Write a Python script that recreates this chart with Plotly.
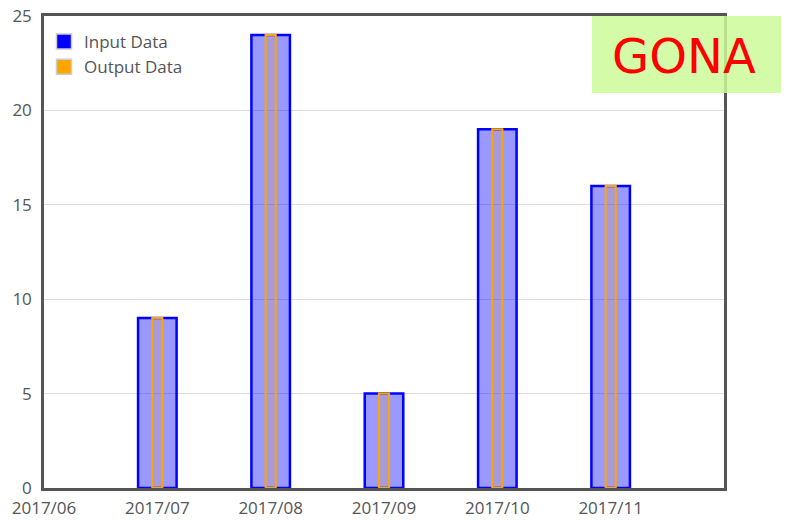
import plotly.graph_objects as go

categories = ["2017/06", "2017/07", "2017/08", "2017/09", "2017/10", "2017/11"]
input_values = [None, 9, 24, 5, 19, 16]
output_values = [None, 9, 24, 5, 19, 16]
y_ticks = [0, 5, 10, 15, 20, 25]

xpos = list(range(len(categories)))
font_family = "Open Sans, Noto Sans, sans-serif"

# The page body has a default 8px margin, so the figure is drawn offset by (8, 8).
OFF = 8
FIG_W, FIG_H = 789 - OFF, 520 - OFF
L, R, T, B = 44 - OFF, 65, 16 - OFF, 32
W = FIG_W - L - R
H = FIG_H - T - B

fig = go.Figure()
fig.add_trace(go.Bar(
    x=xpos, y=input_values, width=0.34, showlegend=False,
    marker=dict(color="rgba(0,0,255,0.4)", line=dict(color="#0000ff", width=2.5)),
))
fig.add_trace(go.Bar(
    x=xpos, y=output_values, width=0.09, showlegend=False,
    marker=dict(color="rgba(255,165,0,0.15)", line=dict(color="#ffa500", width=2)),
))
fig.add_trace(go.Scatter(
    x=[None], y=[None], mode="markers", name="Input Data",
    marker=dict(symbol="square", size=15, color="#0000ff", line=dict(color="#cccccc", width=1.5)),
))
fig.add_trace(go.Scatter(
    x=[None], y=[None], mode="markers", name="Output Data",
    marker=dict(symbol="square", size=15, color="#ffa500", line=dict(color="#cccccc", width=1.5)),
))

# GONA badge (page coordinates -> paper coordinates)
px = lambda v: (v - OFF - L) / W
py = lambda v: 1 - (v - OFF - T) / H
fig.add_shape(type="rect", xref="paper", yref="paper",
              x0=px(592), x1=px(800), y0=py(93), y1=py(16),
              fillcolor="rgba(204,250,153,0.85)", line=dict(width=0), layer="above")
fig.add_annotation(text="GONA", xref="paper", yref="paper",
                   x=px(684), y=py(56),
                   xanchor="center", yanchor="middle", showarrow=False,
                   font=dict(family="DejaVu Sans", size=48, color="#ff0000"))

fig.update_layout(
    template="none",
    width=FIG_W, height=FIG_H, autosize=False,
    margin=dict(l=L, r=R, t=T, b=B, autoexpand=False, pad=0),
    paper_bgcolor="white", plot_bgcolor="white",
    barmode="overlay",
    font=dict(family=font_family, size=17, color="#555555"),
    legend=dict(x=0.0, y=1 - 8 / H, xanchor="left", yanchor="top",
                bgcolor="rgba(0,0,0,0)", font=dict(size=17, color="#555555"),
                itemwidth=30, tracegroupgap=0, borderwidth=0),
    xaxis=dict(range=[0, 6], tickvals=xpos, ticktext=categories, automargin=False,
               showgrid=False, zeroline=False,
               showline=True, linecolor="#555555", linewidth=2.5, mirror=True,
               ticks="outside", ticklen=3, tickcolor="rgba(0,0,0,0)",
               ticklabeloverflow="allow", fixedrange=True),
    yaxis=dict(range=[0, 25], tickvals=y_ticks, automargin=False,
               showgrid=True, gridcolor="#dddddd", gridwidth=1, zeroline=False,
               showline=True, linecolor="#555555", linewidth=2.5, mirror=True,
               ticks="outside", ticklen=6, tickcolor="rgba(0,0,0,0)",
               ticklabeloverflow="allow"),
)

fig.write_html("out.html")
